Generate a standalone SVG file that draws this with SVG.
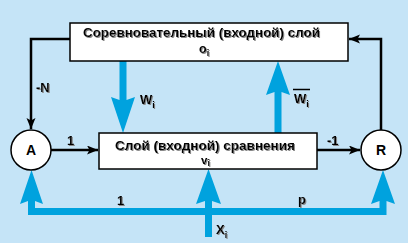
<svg xmlns="http://www.w3.org/2000/svg" width="408" height="243" viewBox="0 0 408 243">
<style>
.bg{fill:#c5e4f7}
.box{fill:#fff;stroke:#000;stroke-width:1.5}
.circ{fill:#fff;stroke:#000;stroke-width:1.5}
.ln{fill:none;stroke:#000;stroke-width:2.5}
.blue{fill:#00a2de}
text{font-family:"Liberation Sans",Arial,sans-serif;font-weight:bold;fill:#000}
.t{font-size:12.5px;filter:url(#sh)}
.lb{font-size:13px;filter:url(#sh)}
.sub{font-size:9px}
.cl{font-size:14px}
</style>
<defs>
<filter id="sh" x="-5%" y="-20%" width="110%" height="150%">
<feOffset in="SourceAlpha" dx="1" dy="1" result="o"/>
<feFlood flood-color="#888"/>
<feComposite in2="o" operator="in" result="s"/>
<feMerge><feMergeNode in="s"/><feMergeNode in="SourceGraphic"/></feMerge>
</filter>
<marker id="ah" markerUnits="userSpaceOnUse" markerWidth="12" markerHeight="10" refX="11" refY="4.5" orient="auto">
<path d="M0,0 L11,4.5 L0,9 L2.5,4.5 z" fill="#000"/>
</marker>
</defs>
<rect class="bg" x="0" y="0" width="408" height="243"/>

<g id="connectors">
<polyline class="ln" points="70,39 31,39 31,129" marker-end="url(#ah)"/>
<polyline class="ln" points="381,130 381,39 349,39" marker-end="url(#ah)"/>
<line class="ln" x1="51" y1="150" x2="98" y2="150" marker-end="url(#ah)"/>
<line class="ln" x1="317" y1="150" x2="360" y2="150" marker-end="url(#ah)"/>
<polygon class="blue" points="119.5,61 126.5,61 126.5,100 135,97 123,133 111,97 119.5,100"/>
<polygon class="blue" points="274.5,133 281.5,133 281.5,92 290,95 278,61 266,95 274.5,92"/>
<path class="blue" d="M28,215 L28,201 L20,204 L31.5,170 L43,204 L35,201 L35,208 L205,208 L205,201 L196,204 L208.5,169 L221,204 L212,201 L212,208 L379.5,208 L379.5,201 L371,204 L383,170 L395,204 L386.5,201 L386.5,215 L212,215 L212,237 L205,237 L205,215 Z"/>
<text class="lb" x="36" y="92">-N</text>
<text class="lb" x="67" y="145">1</text>
<text class="lb" x="327" y="145">-1</text>
<text class="lb" x="117" y="205">1</text>
<text class="lb" x="298" y="204">p</text>
<text class="lb" x="140" y="104">W<tspan class="sub" dy="4">i</tspan></text>
<text class="lb" x="294" y="103">W<tspan class="sub" dy="4">i</tspan></text>
<line x1="293" y1="89.5" x2="310" y2="89.5" stroke="#000" stroke-width="1.5"/>
<text class="lb" x="216" y="234">X<tspan class="sub" dy="4">i</tspan></text>
</g>

<g id="competitive-layer">
<rect class="box" x="70" y="23" width="278" height="38"/>
<text class="t" x="83" y="36.5" textLength="237" lengthAdjust="spacingAndGlyphs">Соревновательный (входной) слой</text>
<text class="t" x="199" y="53">o<tspan class="sub" dy="3">i</tspan></text>
</g>

<g id="comparison-layer">
<rect class="box" x="99" y="133" width="218" height="36"/>
<text class="t" x="115" y="149.5" textLength="180" lengthAdjust="spacingAndGlyphs">Слой (входной) сравнения</text>
<text class="t" x="201" y="163.5" style="font-size:11.5px">v<tspan class="sub" dy="2.5">i</tspan></text>
</g>

<g id="node-A">
<circle class="circ" cx="31" cy="150" r="20"/>
<text class="cl" x="31" y="155" text-anchor="middle">A</text>
</g>

<g id="node-R">
<circle class="circ" cx="381" cy="150" r="20"/>
<text class="cl" x="381" y="155" text-anchor="middle">R</text>
</g>
</svg>
